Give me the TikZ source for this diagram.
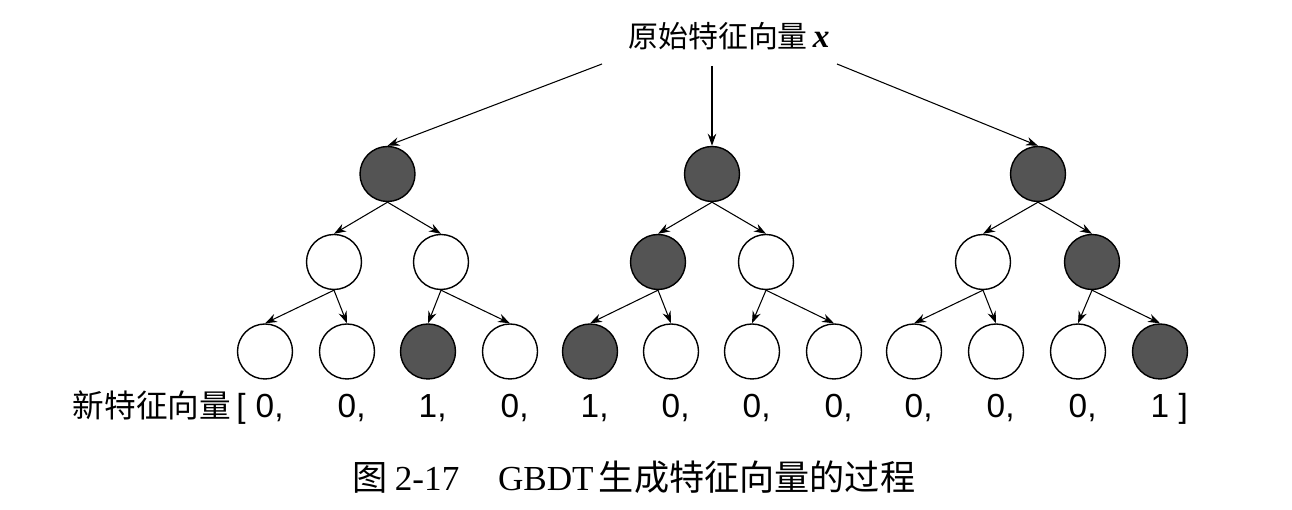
\documentclass[tikz,border=0pt]{standalone}
\usepackage{fontspec}
\setmainfont{Liberation Serif}
\setsansfont{Liberation Sans}
\newfontfamily\cjk{Noto Sans CJK SC}
\usetikzlibrary{arrows.meta}
\definecolor{nodegray}{RGB}{84,84,84}

\begin{document}
\begin{tikzpicture}[
  tnode/.style={circle, draw, line width=0.8pt, minimum size=1.1cm, inner sep=0pt},
  tnodeon/.style={tnode, fill=nodegray},
  arrow/.style={-{Stealth[length=2.4mm, width=1.7mm]}, line width=0.6pt},
  bit/.style={font=\fontsize{19}{22}\selectfont\sffamily, anchor=base, inner sep=0pt},
  label/.style={font=\fontsize{17}{20}\selectfont\cjk, inner sep=0pt},
]
\useasboundingbox (0,0) rectangle (25.84,10.2);

% === Input vector ===
\node[label] (input) at (14.58, 9.48) {原始特征向量\,{\fontsize{19}{22}\selectfont\rmfamily\bfseries\itshape x}};
\coordinate (inl) at (12.04, 8.92);
\coordinate (inm) at (14.24, 8.88);
\coordinate (inr) at (16.74, 8.92);

% === Left tree ===
\node[tnodeon] (lroot) at (7.75, 6.72) {};
\node[tnode]   (la) at (6.68, 4.96) {};
\node[tnode]   (lb) at (8.82, 4.96) {};
\node[tnode]   (l1) at (5.30, 3.17) {};
\node[tnode]   (l2) at (6.94, 3.17) {};
\node[tnodeon] (l3) at (8.56, 3.17) {};
\node[tnode]   (l4) at (10.20, 3.17) {};

\draw[arrow] (inl) -- (lroot.north);
\draw[arrow] (lroot.south) -- (la.north);
\draw[arrow] (lroot.south) -- (lb.north);
\draw[arrow] (la.south) -- (l1.north);
\draw[arrow] (la.south) -- (l2.north);
\draw[arrow] (lb.south) -- (l3.north);
\draw[arrow] (lb.south) -- (l4.north);

% === Middle tree ===
\node[tnodeon] (mroot) at (14.24, 6.72) {};
\node[tnodeon] (ma) at (13.16, 4.96) {};
\node[tnode]   (mb) at (15.32, 4.96) {};
\node[tnodeon] (m1) at (11.80, 3.17) {};
\node[tnode]   (m2) at (13.42, 3.17) {};
\node[tnode]   (m3) at (15.04, 3.17) {};
\node[tnode]   (m4) at (16.68, 3.17) {};

\draw[arrow] (inm) -- (mroot.north);
\draw[arrow] (mroot.south) -- (ma.north);
\draw[arrow] (mroot.south) -- (mb.north);
\draw[arrow] (ma.south) -- (m1.north);
\draw[arrow] (ma.south) -- (m2.north);
\draw[arrow] (mb.south) -- (m3.north);
\draw[arrow] (mb.south) -- (m4.north);

% === Right tree ===
\node[tnodeon] (rroot) at (20.76, 6.72) {};
\node[tnode]   (ra) at (19.66, 4.96) {};
\node[tnodeon] (rb) at (21.84, 4.96) {};
\node[tnode]   (r1) at (18.28, 3.17) {};
\node[tnode]   (r2) at (19.92, 3.17) {};
\node[tnode]   (r3) at (21.56, 3.17) {};
\node[tnodeon] (r4) at (23.20, 3.17) {};

\draw[arrow] (inr) -- (rroot.north);
\draw[arrow] (rroot.south) -- (ra.north);
\draw[arrow] (rroot.south) -- (rb.north);
\draw[arrow] (ra.south) -- (r1.north);
\draw[arrow] (ra.south) -- (r2.north);
\draw[arrow] (rb.south) -- (r3.north);
\draw[arrow] (rb.south) -- (r4.north);

% === New feature vector ===
\node[label, font=\fontsize{18}{21}\selectfont\cjk, anchor=base east] (newvec) at (4.92, 1.84) {新特征向量\,{\fontsize{19}{22}\selectfont\sffamily[}};
\node[bit] (b1)  at (5.30, 1.84)  {0\rlap{,}};
\node[bit] (b2)  at (6.94, 1.84)  {0\rlap{,}};
\node[bit] (b3)  at (8.56, 1.84)  {1\rlap{,}};
\node[bit] (b4)  at (10.20, 1.84) {0\rlap{,}};
\node[bit] (b5)  at (11.80, 1.84) {1\rlap{,}};
\node[bit] (b6)  at (13.42, 1.84) {0\rlap{,}};
\node[bit] (b7)  at (15.04, 1.84) {0\rlap{,}};
\node[bit] (b8)  at (16.68, 1.84) {0\rlap{,}};
\node[bit] (b9)  at (18.28, 1.84) {0\rlap{,}};
\node[bit] (b10) at (19.92, 1.84) {0\rlap{,}};
\node[bit] (b11) at (21.56, 1.84) {0\rlap{,}};
\node[bit] (b12) at (23.20, 1.84) {1\rlap{ ]}};

% === Caption ===
\node[font=\fontsize{20}{24}\selectfont, inner sep=0pt] (caption) at (12.68, 0.65)
  {{\cjk 图}\hspace{0.2em}2-17\hspace{1.1em}GBDT\hspace{0.15em}{\cjk 生成特征向量的过程}};

\end{tikzpicture}
\end{document}
